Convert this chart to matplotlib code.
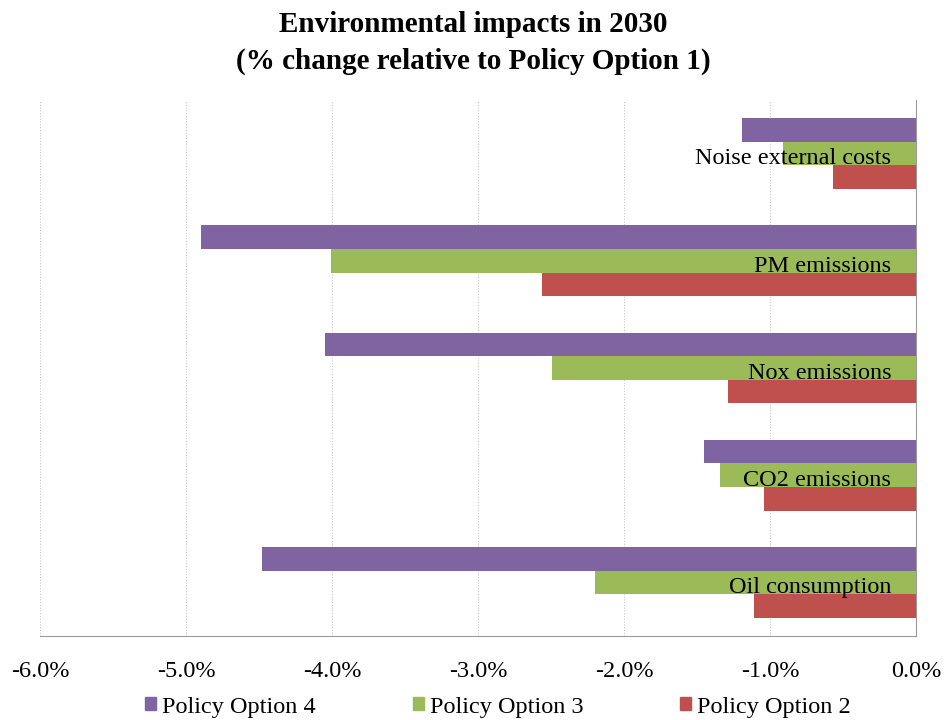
import numpy as np
import matplotlib
matplotlib.use('Agg')
import matplotlib.pyplot as plt
import matplotlib.ticker as ticker
from matplotlib.patches import Patch

plt.rcParams['font.family'] = ['Liberation Serif', 'DejaVu Serif']

categorias = ['Oil consumption', 'CO2 emissions', 'Nox emissions', 'PM emissions', 'Noise external costs']
po2 = [-1.11, -1.04, -1.29, -2.56, -0.57]
po3 = [-2.20, -1.34, -2.49, -4.01, -0.91]
po4 = [-4.48, -1.45, -4.05, -4.90, -1.19]
ticks_x = [-6.0, -5.0, -4.0, -3.0, -2.0, -1.0, 0.0]

cor_po4 = '#8064A2'
cor_po3 = '#9BBB59'
cor_po2 = '#C0504D'

fig = plt.figure(figsize=(9.46, 7.2), dpi=100)
ax = fig.add_axes([40 / 946, 1 - 636 / 720, 876 / 946, 536 / 720])

y = np.arange(len(categorias))
h = 0.22
ax.barh(y + h, po4, height=h, color=cor_po4, label='Policy Option 4', zorder=3)
ax.barh(y, po3, height=h, color=cor_po3, label='Policy Option 3', zorder=3)
ax.barh(y - h, po2, height=h, color=cor_po2, label='Policy Option 2', zorder=3)

# rotulos das categorias dentro do grafico, alinhados a direita
for i, nome in enumerate(categorias):
    ax.text(-0.17, y[i] - 0.05, nome, ha='right', va='center', fontsize=17.5, zorder=4)

ax.set_xlim(-6.0, 0.0)
ax.set_ylim(-0.5, len(categorias) - 0.5)
ax.set_xticks(ticks_x)
ax.xaxis.set_major_formatter(ticker.FuncFormatter(lambda v, pos: f'{v:.1f}%'))
ax.tick_params(axis='x', length=0, labelsize=17.5, pad=18)
ax.set_yticks([])

ax.grid(axis='x', color='#C8C8C8', linestyle=(0, (1, 1.5)), linewidth=0.8, zorder=0)
for lado in ['top', 'left']:
    ax.spines[lado].set_visible(False)
ax.spines['bottom'].set_color('#9A9A9A')
ax.spines['right'].set_color('#9A9A9A')

fig.suptitle('Environmental impacts in 2030\n(% change relative to Policy Option 1)',
             fontsize=21, fontweight='bold', y=0.985, linespacing=1.45)

elementos = [Patch(color=cor_po4, label='Policy Option 4'),
             Patch(color=cor_po3, label='Policy Option 3'),
             Patch(color=cor_po2, label='Policy Option 2')]
fig.legend(handles=elementos, loc='center', bbox_to_anchor=(0.5 + 25 / 946, 1 - 707 / 720), ncol=3,
           frameon=False, fontsize=17.5, handlelength=0.45, handleheight=0.45,
           handletextpad=0.25, columnspacing=4.0)

fig.savefig('out.png', dpi=100)
